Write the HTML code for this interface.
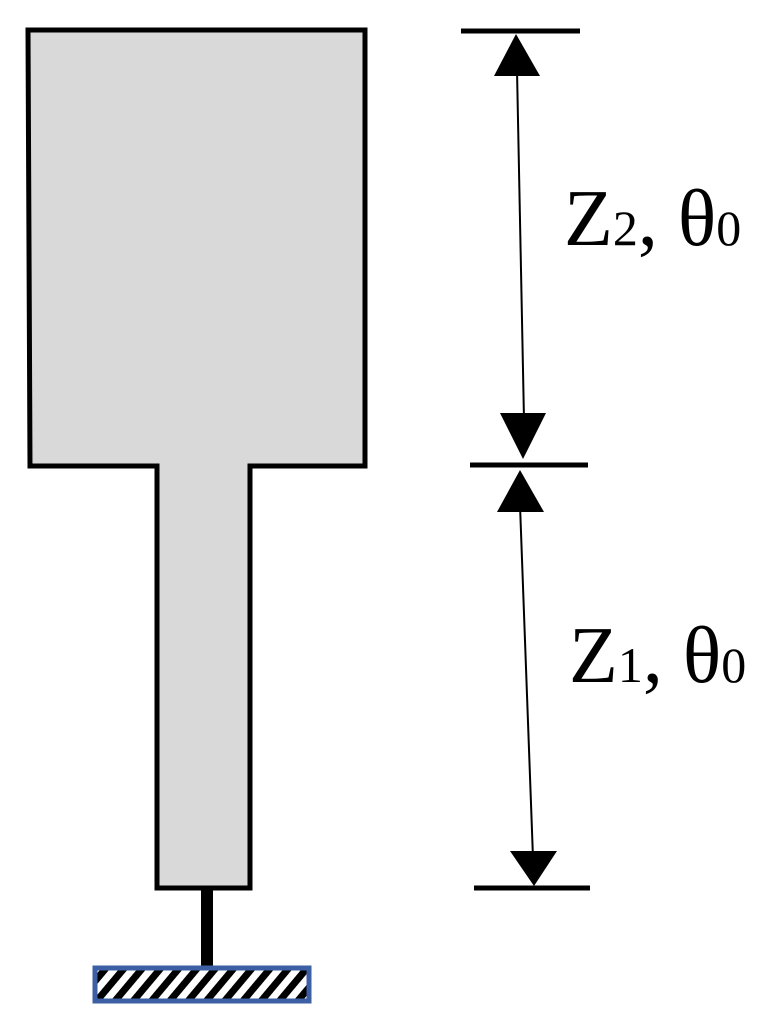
<!DOCTYPE html>
<html><head><style>
body{margin:0;background:#fff;}
svg{display:block;}
text{font-family:"Liberation Serif",serif;}
</style></head><body>
<svg width="766" height="1030" viewBox="0 0 766 1030">
<defs>
<pattern id="h" width="14" height="14" patternUnits="userSpaceOnUse" patternTransform="rotate(40)">
<rect width="14" height="14" fill="#fff"/><rect width="7" height="14" fill="#000"/>
</pattern>
</defs>
<path d="M28,30 L365,30 L365,466 L250,466 L250,888 L157,888 L157,466 L30,466 Z" fill="#d9d9d9" stroke="#000" stroke-width="5" stroke-linejoin="miter"/>
<rect x="201" y="889" width="12" height="79" fill="#000"/>
<rect x="95" y="968" width="214" height="33" fill="url(#h)" stroke="#3d5fa3" stroke-width="5"/>
<g stroke="#000">
<line x1="461" y1="31" x2="580" y2="31" stroke-width="5"/>
<line x1="470" y1="465" x2="588" y2="465" stroke-width="5"/>
<line x1="474" y1="888" x2="590" y2="888" stroke-width="5"/>
<line x1="517" y1="70" x2="524" y2="420" stroke-width="2"/>
<line x1="520" y1="505" x2="533" y2="858" stroke-width="2"/>
</g>
<g fill="#000">
<polygon points="516,34 494,76 540,76"/>
<polygon points="523,459 500,413 546,413"/>
<polygon points="520,470 497,512 544,512"/>
<polygon points="534,886 510,851 557,851"/>
</g>
<text x="564" y="245" font-size="80">Z<tspan font-size="50">2</tspan>, θ<tspan font-size="50">0</tspan></text>
<text x="569" y="682" font-size="80">Z<tspan font-size="50">1</tspan>, θ<tspan font-size="50">0</tspan></text>
</svg>
</body></html>
